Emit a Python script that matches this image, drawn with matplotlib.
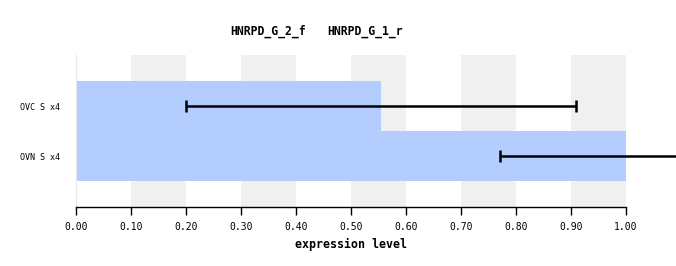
import matplotlib
matplotlib.use("Agg")
import matplotlib.pyplot as plt

categories = ["OVC S x4", "OVN S x4"]
values = [0.5545, 1.0]
errors = [0.3545, 0.229]
legend_labels = ["HNRPD_G_2_f", "HNRPD_G_1_r"]
xticks = [0.0, 0.1, 0.2, 0.3, 0.4, 0.5, 0.6, 0.7, 0.8, 0.9, 1.0]

W, H = 676, 266
fig = plt.figure(figsize=(W / 100, H / 100), dpi=100)
ax = fig.add_axes([76 / W, (H - 207) / H, 550 / W, 152 / H])

mono = "DejaVu Sans Mono"

# alternating grey bands
for i in range(1, 10, 2):
    ax.axvspan(xticks[i], xticks[i + 1], color="#f0f0f0", zorder=0, lw=0)

ypos = list(range(len(categories)))
ax.barh(ypos, values, height=1.0, color="#b3cdff", zorder=1, lw=0)
ax.errorbar(values, ypos, xerr=errors, fmt="none", ecolor="black",
            elinewidth=1.8, capsize=4.5, capthick=1.8, zorder=3, clip_on=False)

ax.set_ylim(1 + 1.02, -1.02)
ax.set_xlim(0, 1.0)
ax.set_yticks(ypos)
ax.set_yticklabels(categories, fontfamily=mono, fontsize=6)
ax.tick_params(axis="y", length=0, pad=11.5)
ax.set_xticks(xticks)
ax.set_xticklabels([f"{t:.2f}" for t in xticks], fontfamily=mono, fontsize=7)
ax.tick_params(axis="x", length=6, width=1, color="black", pad=5)

for s in ["top", "right"]:
    ax.spines[s].set_visible(False)
ax.spines["left"].set_color("#e8e8e8")
ax.spines["bottom"].set_color("black")
ax.spines["bottom"].set_linewidth(1)

ax.set_xlabel("expression level", fontfamily=mono, fontsize=8.4,
              fontweight="bold", labelpad=4)

fig.text(268 / W, 1 - 31 / H, legend_labels[0], fontfamily=mono, fontsize=8.3,
         fontweight="bold", ha="center", va="center")
fig.text(365 / W, 1 - 31 / H, legend_labels[1], fontfamily=mono, fontsize=8.3,
         fontweight="bold", ha="center", va="center")

fig.savefig("out.png", dpi=100)
